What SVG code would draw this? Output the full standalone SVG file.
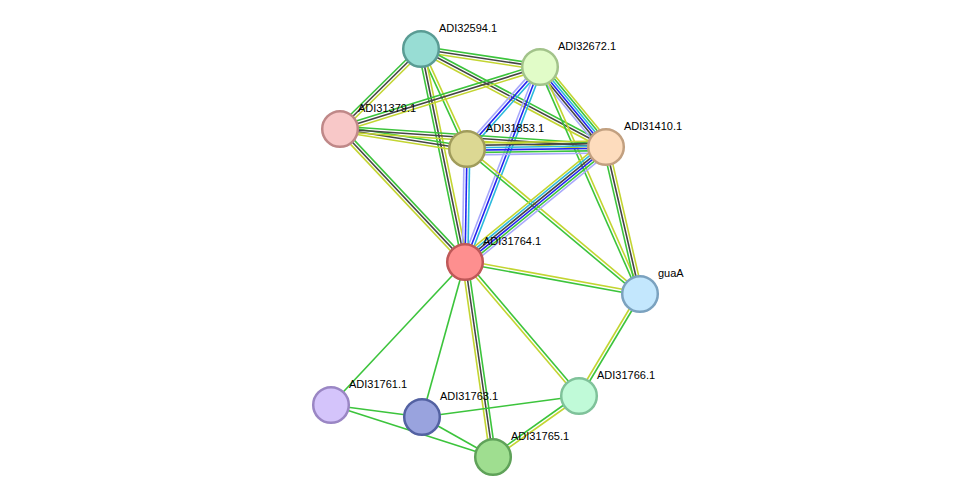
<svg xmlns="http://www.w3.org/2000/svg" width="975" height="503" viewBox="0 0 975 503">
<style>
line{stroke-width:1.6;fill:none}
.g{stroke:#3cc43c}.y{stroke:#c3d531}.k{stroke:#454545}.b{stroke:#2424f0}.c{stroke:#2cb9dc}.l{stroke:#a9a9fb}
circle{stroke-width:2.5}
text{font-family:"Liberation Sans",Arial,sans-serif;font-size:11px;fill:#000}
</style>
<rect width="975" height="503" fill="#fff"/>
<g id="connectors">
<!-- A-B -->
<g transform="translate(421 49) rotate(8.6)"><line class="g" x2="120.35" y1="-2.8" y2="-2.8"/><line class="k" x2="120.35"/><line class="y" x2="120.35" y1="2.8" y2="2.8"/></g>
<!-- A-C -->
<g transform="translate(421 49) rotate(135.36)"><line class="g" x2="113.85" y1="2.8" y2="2.8"/><line class="k" x2="113.85"/><line class="y" x2="113.85" y1="-2.8" y2="-2.8"/></g>
<!-- A-D -->
<g transform="translate(421 49) rotate(65.3)"><line class="g" x2="110.07" y1="1.5" y2="1.5"/><line class="y" x2="110.07" y1="-1.5" y2="-1.5"/></g>
<!-- A-E -->
<g transform="translate(421 49) rotate(78.33)"><line class="g" x2="217.5" y1="2.8" y2="2.8"/><line class="k" x2="217.5"/><line class="y" x2="217.5" y1="-2.8" y2="-2.8"/></g>
<!-- A-F -->
<g transform="translate(421 49) rotate(27.91)"><line class="g" x2="209.35" y1="-2.8" y2="-2.8"/><line class="k" x2="209.35"/><line class="y" x2="209.35" y1="2.8" y2="2.8"/></g>
<!-- B-C -->
<g transform="translate(540 67) rotate(162.78)"><line class="g" x2="209.39" y1="2.8" y2="2.8"/><line class="k" x2="209.39"/><line class="y" x2="209.39" y1="-2.8" y2="-2.8"/></g>
<!-- B-D -->
<g transform="translate(540 67) rotate(131.68)"><line class="l" x2="109.79" y1="2.8" y2="2.8"/><line class="b" x2="109.79"/><line class="c" x2="109.79" y1="-2.8" y2="-2.8"/></g>
<!-- B-E -->
<g transform="translate(540 67) rotate(111.04)"><line class="l" x2="208.93" y1="2.8" y2="2.8"/><line class="b" x2="208.93"/><line class="c" x2="208.93" y1="-2.8" y2="-2.8"/></g>
<!-- B-F -->
<g transform="translate(540 67) rotate(50.47)"><line class="y" x2="103.71" y1="-6" y2="-6"/><line class="g" x2="103.71" y1="-3.6" y2="-3.6"/><line class="c" x2="103.71" y1="-1.2" y2="-1.2"/><line class="b" x2="103.71" y1="1.2" y2="1.2"/><line class="k" x2="103.71" y1="3.6" y2="3.6"/><line class="l" x2="103.71" y1="6" y2="6"/></g>
<!-- B-G -->
<g transform="translate(540 67) rotate(66.22)"><line class="g" x2="248.05" y1="1.5" y2="1.5"/><line class="y" x2="248.05" y1="-1.5" y2="-1.5"/></g>
<!-- C-D -->
<g transform="translate(340 129) rotate(8.95)"><line class="g" x2="128.57" y1="-2.8" y2="-2.8"/><line class="k" x2="128.57"/><line class="y" x2="128.57" y1="2.8" y2="2.8"/></g>
<!-- C-F -->
<g transform="translate(340 129) rotate(3.87)"><line class="g" x2="266.61" y1="-2.8" y2="-2.8"/><line class="k" x2="266.61"/><line class="y" x2="266.61" y1="2.8" y2="2.8"/></g>
<!-- C-E -->
<g transform="translate(340 129) rotate(46.78)"><line class="g" x2="182.52" y1="-2.8" y2="-2.8"/><line class="k" x2="182.52"/><line class="y" x2="182.52" y1="2.8" y2="2.8"/></g>
<!-- D-F -->
<g transform="translate(467 149) rotate(-0.82)"><line class="y" x2="139.01" y1="-6" y2="-6"/><line class="k" x2="139.01" y1="-3.6" y2="-3.6"/><line class="c" x2="139.01" y1="-1.2" y2="-1.2"/><line class="b" x2="139.01" y1="1.2" y2="1.2"/><line class="g" x2="139.01" y1="3.6" y2="3.6"/><line class="l" x2="139.01" y1="6" y2="6"/></g>
<!-- D-E -->
<g transform="translate(467 149) rotate(91.01)"><line class="l" x2="113.02" y1="2.8" y2="2.8"/><line class="b" x2="113.02"/><line class="c" x2="113.02" y1="-2.8" y2="-2.8"/></g>
<!-- D-G -->
<g transform="translate(467 149) rotate(39.97)"><line class="y" x2="225.73" y1="-1.5" y2="-1.5"/><line class="g" x2="225.73" y1="1.5" y2="1.5"/></g>
<!-- E-F -->
<g transform="translate(465 262) rotate(-39.2)"><line class="y" x2="181.95" y1="-6" y2="-6"/><line class="c" x2="181.95" y1="-3.6" y2="-3.6"/><line class="k" x2="181.95" y1="-1.2" y2="-1.2"/><line class="b" x2="181.95" y1="1.2" y2="1.2"/><line class="g" x2="181.95" y1="3.6" y2="3.6"/><line class="l" x2="181.95" y1="6" y2="6"/></g>
<!-- F-G -->
<g transform="translate(606 147) rotate(76.98)"><line class="g" x2="150.88" y1="2.8" y2="2.8"/><line class="k" x2="150.88"/><line class="y" x2="150.88" y1="-2.8" y2="-2.8"/></g>
<!-- E-G -->
<g transform="translate(465 262) rotate(10.36)"><line class="y" x2="177.9" y1="-1.5" y2="-1.5"/><line class="g" x2="177.9" y1="1.5" y2="1.5"/></g>
<!-- E-K -->
<g transform="translate(465 262) rotate(81.83)"><line class="y" x2="197" y1="2.8" y2="2.8"/><line class="k" x2="197"/><line class="g" x2="197" y1="-2.8" y2="-2.8"/></g>
<!-- E-J -->
<g transform="translate(465 262) rotate(49.61)"><line class="g" x2="175.93" y1="-1.5" y2="-1.5"/><line class="y" x2="175.93" y1="1.5" y2="1.5"/></g>
<!-- G-J -->
<g transform="translate(640 294) rotate(120.88)"><line class="y" x2="118.85" y1="1.5" y2="1.5"/><line class="g" x2="118.85" y1="-1.5" y2="-1.5"/></g>
<!-- J-K -->
<g transform="translate(579 396) rotate(144.65)"><line class="g" x2="105.44" y1="1.5" y2="1.5"/><line class="y" x2="105.44" y1="-1.5" y2="-1.5"/></g>
<!-- single green -->
<line class="g" x1="465" y1="262" x2="331" y2="405"/>
<line class="g" x1="465" y1="262" x2="422" y2="417"/>
<line class="g" x1="331" y1="405" x2="422" y2="417"/>
<line class="g" x1="331" y1="405" x2="493" y2="457"/>
<line class="g" x1="422" y1="417" x2="579" y2="396"/>
<line class="g" x1="422" y1="417" x2="493" y2="457"/>
</g>
<g id="ADI32594.1"><circle cx="421" cy="49" r="17.8" fill="#98ddd4" stroke="#5a9c94"/><text x="439" y="32">ADI32594.1</text></g>
<g id="ADI32672.1"><circle cx="540" cy="67" r="17.8" fill="#e1fcc8" stroke="#a2c38a"/><text x="558" y="50">ADI32672.1</text></g>
<g id="ADI31379.1"><circle cx="340" cy="129" r="17.8" fill="#f8c8c8" stroke="#bf8888"/><text x="358" y="112">ADI31379.1</text></g>
<g id="ADI31853.1"><circle cx="467" cy="149" r="17.8" fill="#dcd893" stroke="#a09c5b"/><text x="486" y="132">ADI31853.1</text></g>
<g id="ADI31410.1"><circle cx="606" cy="147" r="17.8" fill="#fddcbd" stroke="#c2a080"/><text x="624" y="130">ADI31410.1</text></g>
<g id="ADI31764.1"><circle cx="465" cy="262" r="17.8" fill="#fe8f8f" stroke="#bf5858"/><text x="483" y="245">ADI31764.1</text></g>
<g id="guaA"><circle cx="640" cy="294" r="17.8" fill="#c3e7fd" stroke="#7ba2bf"/><text x="658" y="277">guaA</text></g>
<g id="ADI31761.1"><circle cx="331" cy="405" r="17.8" fill="#d4c4fb" stroke="#9a86c4"/><text x="349" y="388">ADI31761.1</text></g>
<g id="ADI31763.1"><circle cx="422" cy="417" r="17.8" fill="#99a3de" stroke="#5361a2"/><text x="440" y="400">ADI31763.1</text></g>
<g id="ADI31766.1"><circle cx="579" cy="396" r="17.8" fill="#c0fad8" stroke="#7fc29a"/><text x="597" y="379">ADI31766.1</text></g>
<g id="ADI31765.1"><circle cx="493" cy="457" r="17.8" fill="#9fde90" stroke="#5fa259"/><text x="511" y="440">ADI31765.1</text></g>
</svg>
